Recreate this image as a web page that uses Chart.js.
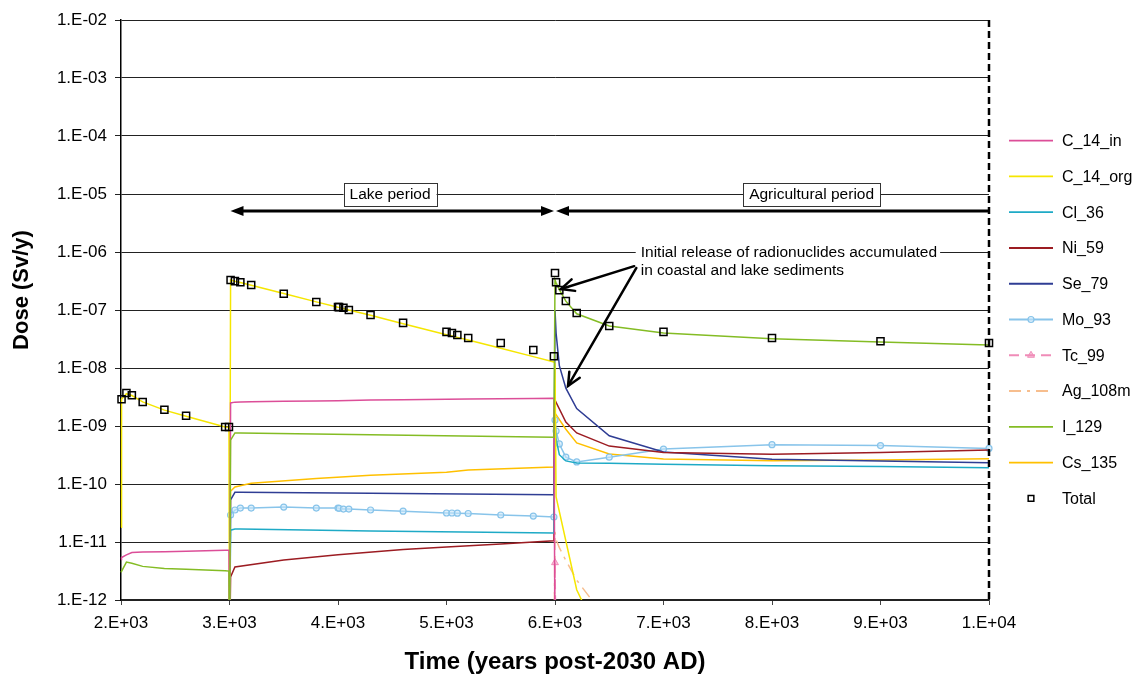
<!DOCTYPE html>
<html>
<head>
<meta charset="utf-8">
<script src="https://cdn.jsdelivr.net/npm/chart.js@4.4.0/dist/chart.umd.min.js"></script>
<style>
  body { margin: 0; background: #fff; }
</style>
</head>
<body>
<canvas id="dose" width="1137" height="675"></canvas>
<script>
var n = null;

// time steps (years post-2030 AD)
var years = [2000, 2005, 2050, 2100, 2200, 2400, 2600, 2960, 2995,
  3000,
  3010, 3050, 3100, 3200, 3500, 3800, 4000, 4010, 4050, 4100, 4300, 4600, 5000, 5050, 5100, 5200, 5500, 5800, 5990,
  6000, 6010, 6040, 6100, 6200, 6500, 7000, 8000, 9000, 10000];

var c14in = [5.0e-12, 5.4e-12, 6.0e-12, 6.6e-12, 6.7e-12, 6.8e-12, 6.9e-12, 7.2e-12, 7.2e-12,
  1e-13,
  2.5e-9, 2.58e-9, 2.6e-9, 2.62e-9, 2.66e-9, 2.7e-9, 2.72e-9, n, n, n, 2.8e-9, 2.84e-9, 2.88e-9, n, n, 2.92e-9, 2.95e-9, 2.98e-9, 3.0e-9,
  1e-13, n, n, n, n, n, n, n, n, n];

var c14org = [1.8e-11, 2.9e-9, 3.6e-9, 3.35e-9, 2.6e-9, 1.88e-9, 1.47e-9, 9.6e-10, 9.5e-10,
  1e-13,
  3.3e-7, 3.13e-7, 2.98e-7, 2.67e-7, 1.92e-7, 1.38e-7, 1.12e-7, 1.11e-7, 1.06e-7, 1.0e-7, 8.1e-8, 5.8e-8, 3.75e-8, 3.56e-8, 3.37e-8, 3.03e-8, 2.19e-8, 1.57e-8, 1.27e-8,
  1.2e-8, 6e-11, n, n, 1.5e-12, 1e-13, n, n, n, n];

var cl36 = [n, n, n, n, n, n, n, n, n,
  1e-13,
  1.6e-11, 1.67e-11, 1.67e-11, n, n, n, n, n, n, n, 1.55e-11, n, n, n, n, n, n, n, 1.43e-11,
  1.2e-9, 6e-10, 3.2e-10, 2.5e-10, 2.3e-10, 2.28e-10, 2.2e-10, 2.07e-10, 2.0e-10, 1.91e-10];

var ni59 = [n, n, n, n, n, n, n, n, n,
  1e-13,
  2.5e-12, 3.7e-12, n, n, 4.9e-12, n, 6.0e-12, n, n, n, n, 7.4e-12, 8.2e-12, n, n, n, 9.2e-12, n, 1.05e-11,
  2.8e-9, n, n, 1.17e-9, 7.6e-10, 4.5e-10, 3.5e-10, 3.25e-10, 3.5e-10, 3.85e-10];

var se79 = [n, n, n, n, n, n, n, n, n,
  1e-13,
  5.3e-11, 7.2e-11, 7.2e-11, n, n, n, n, n, n, n, 6.9e-11, n, n, n, n, n, n, n, 6.5e-11,
  1.0e-7, 4e-8, 1.1e-8, 4.5e-9, 2.0e-9, 6.8e-10, 3.55e-10, 2.67e-10, 2.5e-10, 2.33e-10];

var mo93 = [n, n, n, n, n, n, n, n, n,
  1e-13,
  2.92e-11, 3.56e-11, 3.85e-11, 3.85e-11, 4.0e-11, 3.85e-11, 3.85e-11, 3.8e-11, 3.7e-11, 3.7e-11, 3.56e-11, 3.4e-11, 3.16e-11, 3.16e-11, 3.14e-11, 3.1e-11, 2.92e-11, 2.8e-11, 2.7e-11,
  1.27e-9, 8.2e-10, 4.9e-10, 2.9e-10, 2.4e-10, 2.9e-10, 4.0e-10, 4.76e-10, 4.6e-10, 4.1e-10];

var tc99 = [n, n, n, n, n, n, n, n, n,
  n,
  n, n, n, n, n, n, n, n, n, n, n, n, n, n, n, n, n, n, 1e-13,
  4.4e-12, 1e-13, n, n, n, n, n, n, n, n];

var ag108m = [n, n, n, n, n, n, n, n, n,
  n,
  n, n, n, n, n, n, n, n, n, n, n, n, n, n, n, n, n, n, 1e-13,
  1.5e-11, 1.1e-11, 8e-12, 4.8e-12, 2.2e-12, 4e-13, n, n, n, n];

var i129 = [3.0e-12, n, 4.5e-12, 4.3e-12, 3.8e-12, 3.5e-12, 3.4e-12, 3.2e-12, 3.15e-12,
  1e-13,
  5.7e-10, 7.6e-10, 7.6e-10, n, n, n, n, n, n, n, 7.1e-10, n, n, n, n, n, n, n, 6.4e-10,
  3.3e-7, 2.95e-7, 2.25e-7, 1.42e-7, 8.6e-8, 5.3e-8, 4.0e-8, 3.2e-8, 2.8e-8, 2.5e-8];

var cs135 = [n, n, n, n, n, n, n, n, n,
  1e-13,
  7.5e-11, 8.9e-11, n, 1.03e-10, n, 1.25e-10, n, n, n, n, 1.42e-10, n, 1.6e-10, n, n, 1.74e-10, n, n, 1.96e-10,
  1.67e-9, n, n, 8.8e-10, 5.1e-10, 3.3e-10, 2.7e-10, 2.52e-10, 2.6e-10, 2.73e-10];

var total = [n, 2.9e-9, 3.7e-9, 3.4e-9, 2.6e-9, 1.9e-9, 1.5e-9, 9.6e-10, 9.6e-10,
  n,
  3.3e-7, 3.15e-7, 3.0e-7, 2.7e-7, 1.9e-7, 1.37e-7, 1.13e-7, 1.12e-7, 1.09e-7, 1.0e-7, 8.2e-8, 6.0e-8, 4.2e-8, 4.0e-8, 3.7e-8, 3.3e-8, 2.7e-8, 2.05e-8, 1.6e-8,
  4.35e-7, 3.0e-7, 2.2e-7, 1.43e-7, 8.9e-8, 5.3e-8, 4.2e-8, 3.3e-8, 2.9e-8, 2.7e-8];

var xTicks = [2000, 3000, 4000, 5000, 6000, 7000, 8000, 9000, 10000];
var xTickLabels = ['2.E+03', '3.E+03', '4.E+03', '5.E+03', '6.E+03', '7.E+03', '8.E+03', '9.E+03', '1.E+04'];
var yTicks = [1e-12, 1e-11, 1e-10, 1e-9, 1e-8, 1e-7, 1e-6, 1e-5, 1e-4, 1e-3, 1e-2];
var yTickLabels = ['1.E-12', '1.E-11', '1.E-10', '1.E-09', '1.E-08', '1.E-07', '1.E-06', '1.E-05', '1.E-04', '1.E-03', '1.E-02'];

// annotation anchors (data units)
var lakePeriod = [3000, 6000];
var agriPeriod = [6000, 10000];
var periodArrowDose = 5.1e-6;
var periodBoxDose = 1e-5;
var lakeLabelYear = 4480;
var agriLabelYear = 8365;
var noteYear = 6790;
var noteDose = 1e-6;
var noteArrowFrom = [[6730, 5.7e-7], [6750, 5.3e-7]];
var noteArrowTo = [[6055, 2.3e-7], [6120, 4.9e-9]];

var FONT = "'Liberation Sans', Arial, sans-serif";
Chart.defaults.font.family = FONT;
Chart.defaults.color = '#000';

function pts(vals) {
    return years.map(function(t, i) { return { x: t, y: vals[i] }; });
}

function line(label, vals, color, extra) {
    var ds = {
        label: label,
        data: pts(vals),
        borderColor: color,
        backgroundColor: color,
        borderWidth: 1.5,
        pointRadius: 0,
        tension: 0,
        spanGaps: true,
        clip: { left: 8, right: 8, top: 0, bottom: 0 }
    };
    for (var k in extra) ds[k] = extra[k];
    return ds;
}

var datasets = [
    line('C_14_in', c14in, '#DC4E98'),
    line('C_14_org', c14org, '#F5E600'),
    line('Cl_36', cl36, '#1EAAC6'),
    line('Ni_59', ni59, '#9C1C22'),
    line('Se_79', se79, '#2F3D94'),
    line('Mo_93', mo93, '#88C4EA', { pointRadius: 3, pointStyle: 'circle', pointBorderWidth: 1.2, pointBackgroundColor: 'rgba(200,230,250,0.6)' }),
    line('Tc_99', tc99, '#F08CB8', { borderDash: [10, 6], pointRadius: 4, pointStyle: 'triangle', pointBorderWidth: 1, pointBackgroundColor: 'rgba(240,140,184,0.5)' }),
    line('Ag_108m', ag108m, '#F7BE8E', { borderDash: [12, 6, 3, 6] }),
    line('I_129', i129, '#84BC24', { order: -0.5 }),
    line('Cs_135', cs135, '#FFC000'),
    line('Total', total, '#000', { showLine: false, pointRadius: 5, pointStyle: 'rect', pointBorderWidth: 1.5, pointBackgroundColor: 'rgba(255,255,255,0)', order: -1 })
];

function arrowHead(ctx, x, y, ang, len, half, filled) {
    var d = Math.hypot(len, half), a = Math.atan2(half, len);
    ctx.beginPath();
    ctx.moveTo(x + Math.cos(ang - a) * d, y + Math.sin(ang - a) * d);
    ctx.lineTo(x, y);
    ctx.lineTo(x + Math.cos(ang + a) * d, y + Math.sin(ang + a) * d);
    if (filled) { ctx.closePath(); ctx.fill(); } else { ctx.stroke(); }
}

function boxLabel(ctx, text, cx, cy) {
    ctx.font = '15.5px ' + FONT;
    var w = ctx.measureText(text).width + 12;
    ctx.fillStyle = '#fff';
    ctx.fillRect(cx - w / 2, cy - 11.5, w, 23);
    ctx.strokeStyle = '#333';
    ctx.lineWidth = 1;
    ctx.strokeRect(Math.round(cx - w / 2) + 0.5, Math.round(cy - 11.5) + 0.5, Math.round(w), 23);
    ctx.fillStyle = '#000';
    ctx.textAlign = 'center';
    ctx.textBaseline = 'middle';
    ctx.fillText(text, cx, cy + 1);
}

var overlay = {
    id: 'overlay',
    afterDatasetsDraw: function(chart) {
        var ctx = chart.ctx, xs = chart.scales.x, ys = chart.scales.y, area = chart.chartArea;
        ctx.save();

        // dashed end-of-period line
        ctx.strokeStyle = '#000';
        ctx.lineWidth = 2.5;
        ctx.setLineDash([7, 4]);
        ctx.beginPath();
        ctx.moveTo(xs.getPixelForValue(10000), area.top);
        ctx.lineTo(xs.getPixelForValue(10000), area.bottom);
        ctx.stroke();
        ctx.setLineDash([]);

        // period arrows
        var ay = ys.getPixelForValue(periodArrowDose);
        var l0 = xs.getPixelForValue(lakePeriod[0]) + 1, l1 = xs.getPixelForValue(lakePeriod[1]) - 1;
        var a0 = xs.getPixelForValue(agriPeriod[0]) + 1, a1 = xs.getPixelForValue(agriPeriod[1]);
        ctx.fillStyle = '#000';
        ctx.lineWidth = 3;
        ctx.beginPath();
        ctx.moveTo(l0 + 6, ay); ctx.lineTo(l1 - 6, ay);
        ctx.moveTo(a0 + 6, ay); ctx.lineTo(a1, ay);
        ctx.stroke();
        arrowHead(ctx, l0, ay, 0, 13, 5, true);
        arrowHead(ctx, l1, ay, Math.PI, 13, 5, true);
        arrowHead(ctx, a0, ay, 0, 13, 5, true);

        // period labels sitting on the 1.E-05 grid line
        var by = ys.getPixelForValue(periodBoxDose);
        boxLabel(ctx, 'Lake period', xs.getPixelForValue(lakeLabelYear), by);
        boxLabel(ctx, 'Agricultural period', xs.getPixelForValue(agriLabelYear), by);

        // note on the initial release
        var nx = xs.getPixelForValue(noteYear), ny = ys.getPixelForValue(noteDose) + 1;
        ctx.font = '15.5px ' + FONT;
        var l1w = ctx.measureText('Initial release of radionuclides accumulated').width;
        ctx.fillStyle = '#fff';
        ctx.fillRect(nx - 5, ny - 9, l1w + 8, 18);
        ctx.fillStyle = '#000';
        ctx.textAlign = 'left';
        ctx.textBaseline = 'middle';
        ctx.fillText('Initial release of radionuclides accumulated', nx, ny);
        ctx.fillText('in coastal and lake sediments', nx, ny + 18);

        ctx.strokeStyle = '#000';
        ctx.lineWidth = 2.5;
        ctx.lineCap = 'round';
        for (var i = 0; i < noteArrowFrom.length; i++) {
            var fx = xs.getPixelForValue(noteArrowFrom[i][0]), fy = ys.getPixelForValue(noteArrowFrom[i][1]);
            var tx = xs.getPixelForValue(noteArrowTo[i][0]), ty = ys.getPixelForValue(noteArrowTo[i][1]);
            ctx.beginPath();
            ctx.moveTo(fx, fy); ctx.lineTo(tx, ty);
            ctx.stroke();
            arrowHead(ctx, tx, ty, Math.atan2(fy - ty, fx - tx), 13, 6, false);
        }

        // y axis title
        ctx.save();
        ctx.translate(22, (area.top + area.bottom) / 2 - 20);
        ctx.rotate(-Math.PI / 2);
        ctx.font = 'bold 22px ' + FONT;
        ctx.fillStyle = '#000';
        ctx.textAlign = 'center';
        ctx.textBaseline = 'middle';
        ctx.fillText('Dose (Sv/y)', 0, 0);
        ctx.restore();

        // legend
        var lx0 = 1009, lx1 = 1053, tx0 = 1062, ly0 = 140.7, step = 35.76;
        ctx.font = '16px ' + FONT;
        ctx.textBaseline = 'middle';
        ctx.textAlign = 'left';
        chart.data.datasets.forEach(function(ds, k) {
            var y = ly0 + k * step;
            if (ds.showLine !== false) {
                ctx.strokeStyle = ds.borderColor;
                ctx.lineWidth = 1.8;
                ctx.lineCap = 'butt';
                ctx.setLineDash(ds.borderDash || []);
                ctx.beginPath();
                ctx.moveTo(lx0, y); ctx.lineTo(lx1, y);
                ctx.stroke();
                ctx.setLineDash([]);
            }
            if (ds.pointRadius > 0) {
                ctx.strokeStyle = ds.borderColor;
                ctx.fillStyle = ds.pointBackgroundColor;
                ctx.lineWidth = ds.pointBorderWidth;
                var r = ds.pointStyle === 'rect' ? 4 : ds.pointRadius;
                Chart.helpers.drawPoint(ctx, { pointStyle: ds.pointStyle, radius: r, rotation: 0, borderWidth: ds.pointBorderWidth }, (lx0 + lx1) / 2, y);
            }
            ctx.fillStyle = '#000';
            ctx.fillText(ds.label, tx0, y + 1);
        });

        ctx.restore();
    }
};

var ctx = document.getElementById('dose').getContext('2d');
var doseChart = new Chart(ctx, {
    type: 'line',
    data: { datasets: datasets },
    plugins: [overlay],
    options: {
        responsive: false,
        animation: false,
        events: [],
        layout: { padding: { top: 20, right: 148, left: 0, bottom: 0 } },
        plugins: { legend: { display: false }, tooltip: { enabled: false } },
        scales: {
            x: {
                type: 'linear',
                min: 2000,
                max: 10000,
                afterBuildTicks: function(s) { s.ticks = xTicks.map(function(v) { return { value: v }; }); },
                afterFit: function(s) { s.height = 75; },
                ticks: {
                    autoSkip: false,
                    maxRotation: 0,
                    padding: 8,
                    font: { size: 17 },
                    callback: function(v) { return xTickLabels[xTicks.indexOf(v)]; }
                },
                grid: { drawOnChartArea: false, drawTicks: true, tickLength: 5, color: '#444' },
                border: { color: '#222', width: 1.5 },
                title: { display: true, text: 'Time (years post-2030 AD)', font: { size: 24, weight: 'bold' }, padding: { top: 0, bottom: -2 } }
            },
            y: {
                type: 'logarithmic',
                min: 1e-12,
                max: 1e-2,
                afterBuildTicks: function(s) { s.ticks = yTicks.map(function(v) { return { value: v }; }); },
                afterFit: function(s) { s.width = 121; },
                ticks: {
                    autoSkip: false,
                    padding: 8,
                    font: { size: 17 },
                    callback: function(v) { return yTickLabels[Math.round(Math.log10(v)) + 12]; }
                },
                grid: { color: '#222', lineWidth: 1, tickLength: 6 },
                border: { color: '#000', width: 1.5 },
                title: { display: false }
            }
        }
    }
});
</script>
</body>
</html>
